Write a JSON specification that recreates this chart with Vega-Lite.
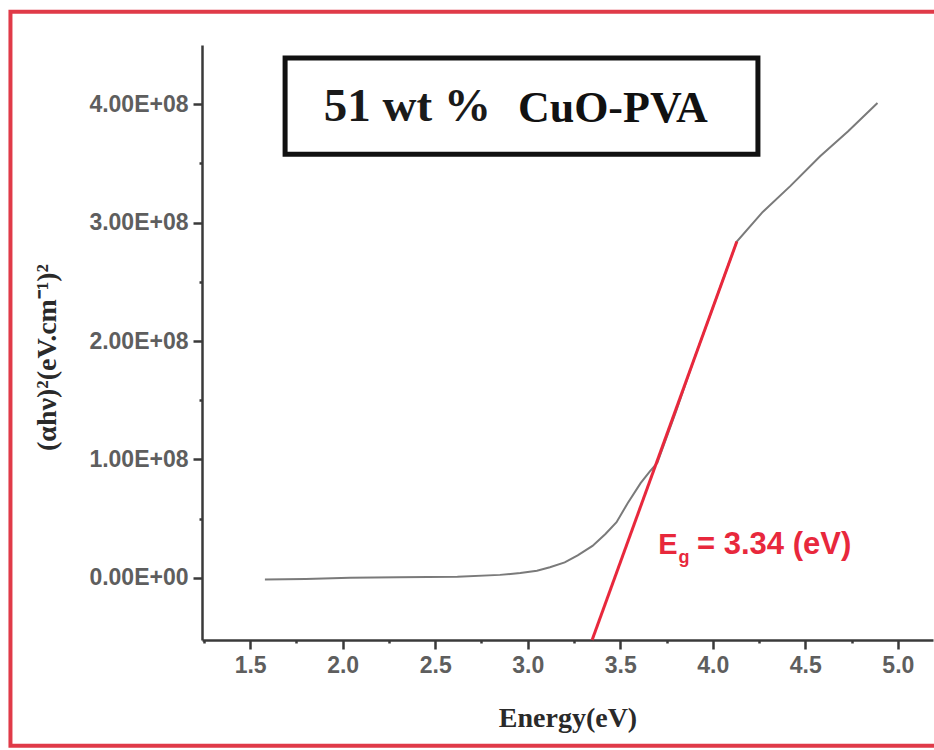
{
  "$schema": "https://vega.github.io/schema/vega-lite/v6.json",
  "width": 731,
  "height": 595,
  "autosize": {"type": "none"},
  "padding": {"left": 202, "top": 45, "right": 1, "bottom": 110},
  "background": "white",
  "config": {
    "view": {"stroke": null},
    "axis": {
      "domainColor": "#3a3a3a",
      "domainWidth": 2.5,
      "tickColor": "#3a3a3a",
      "tickWidth": 2.5,
      "grid": false,
      "labelFont": "Liberation Sans",
      "labelFontSize": 23,
      "labelFontWeight": "bold",
      "labelColor": "#5e5e5e",
      "titleFont": "Liberation Serif",
      "titleFontWeight": "bold",
      "titleColor": "#2a2a2a"
    }
  },
  "datasets": {
    "curve": [
      {"energy": 1.58, "value": -1500000},
      {"energy": 1.8, "value": -1000000},
      {"energy": 2.04, "value": 0},
      {"energy": 2.3, "value": 500000},
      {"energy": 2.62, "value": 1000000},
      {"energy": 2.85, "value": 2500000},
      {"energy": 2.96, "value": 4000000},
      {"energy": 3.05, "value": 6000000},
      {"energy": 3.12, "value": 9000000},
      {"energy": 3.2, "value": 13000000},
      {"energy": 3.27, "value": 19000000},
      {"energy": 3.35, "value": 27000000},
      {"energy": 3.42, "value": 37000000},
      {"energy": 3.48, "value": 47000000},
      {"energy": 3.54, "value": 63000000},
      {"energy": 3.61, "value": 80000000},
      {"energy": 3.66, "value": 90000000},
      {"energy": 3.7, "value": 97000000},
      {"energy": 3.8, "value": 140000000},
      {"energy": 3.9, "value": 185000000},
      {"energy": 4.0, "value": 228000000},
      {"energy": 4.13, "value": 284000000},
      {"energy": 4.27, "value": 309000000},
      {"energy": 4.42, "value": 331000000},
      {"energy": 4.58, "value": 356000000},
      {"energy": 4.73, "value": 377000000},
      {"energy": 4.89, "value": 401000000}
    ],
    "fit": [
      {"energy": 3.348, "value": -52500000},
      {"energy": 4.13, "value": 284000000}
    ]
  },
  "layer": [
    {
      "data": {"values": [{}]},
      "mark": {"type": "rect", "fill": null, "stroke": "#e03a48", "strokeWidth": 4, "clip": false},
      "encoding": {
        "x": {"datum": 0.205, "type": "quantitative"},
        "x2": {"datum": 5.45},
        "y": {"datum": 478000000, "type": "quantitative"},
        "y2": {"datum": -141800000}
      }
    },
    {
      "data": {"name": "curve"},
      "mark": {"type": "line", "color": "#7a7a7a", "strokeWidth": 2},
      "encoding": {
        "x": {
          "field": "energy",
          "type": "quantitative",
          "scale": {"domain": [1.24, 5.19], "nice": false, "zero": false},
          "axis": {
            "title": "Energy(eV)",
            "titleFontSize": 28,
            "titleY": 78,
            "titleBaseline": "middle",
            "values": [1.25, 1.5, 1.75, 2.0, 2.25, 2.5, 2.75, 3.0, 3.25, 3.5, 3.75, 4.0, 4.25, 4.5, 4.75, 5.0],
            "labelExpr": "datum.value % 0.5 == 0 ? format(datum.value, '.1f') : ''",
            "tickSize": {"condition": {"test": "datum.value % 0.5 != 0", "value": 3}, "value": 9},
            "labelPadding": 5
          }
        },
        "y": {
          "field": "value",
          "type": "quantitative",
          "scale": {"domain": [-52500000, 450000000], "nice": false, "zero": false},
          "axis": {
            "title": "(αhν)²(eV.cm⁻¹)²",
            "titleFontSize": 28,
            "titleX": -155,
            "titleY": 312,
            "titleBaseline": "middle",
            "values": [0, 50000000, 100000000, 150000000, 200000000, 250000000, 300000000, 350000000, 400000000],
            "labelExpr": "datum.value % 100000000 != 0 ? '' : (datum.value == 0 ? '0.00E+00' : format(datum.value / 100000000, '.2f') + 'E+08')",
            "tickSize": {"condition": {"test": "datum.value % 100000000 != 0", "value": 3}, "value": 9},
            "labelPadding": 5
          }
        }
      }
    },
    {
      "data": {"name": "fit"},
      "mark": {"type": "line", "color": "#e8283c", "strokeWidth": 3, "clip": false},
      "encoding": {
        "x": {"field": "energy", "type": "quantitative"},
        "y": {"field": "value", "type": "quantitative"}
      }
    },
    {
      "data": {"values": [{}]},
      "mark": {"type": "rect", "fill": "white", "stroke": "#111111", "strokeWidth": 5},
      "encoding": {
        "x": {"datum": 1.689, "type": "quantitative"},
        "x2": {"datum": 4.244},
        "y": {"datum": 439000000, "type": "quantitative"},
        "y2": {"datum": 357700000}
      }
    },
    {
      "data": {"values": [{}]},
      "mark": {"type": "text", "text": "51 wt %", "font": "Liberation Serif", "fontWeight": "bold", "fontSize": 47, "color": "#1a1a1a", "align": "center", "baseline": "middle"},
      "encoding": {
        "x": {"datum": 2.35, "type": "quantitative"},
        "y": {"datum": 398000000, "type": "quantitative"}
      }
    },
    {
      "data": {"values": [{}]},
      "mark": {"type": "text", "text": "CuO-PVA", "font": "Liberation Serif", "fontWeight": "bold", "fontSize": 44, "color": "#111111", "align": "center", "baseline": "middle"},
      "encoding": {
        "x": {"datum": 3.46, "type": "quantitative"},
        "y": {"datum": 396000000, "type": "quantitative"}
      }
    },
    {
      "data": {"values": [{}]},
      "mark": {"type": "text", "text": "E", "font": "Liberation Sans", "fontWeight": "bold", "fontSize": 29, "color": "#e8283c", "align": "left", "baseline": "middle"},
      "encoding": {
        "x": {"datum": 3.705, "type": "quantitative"},
        "y": {"datum": 28000000, "type": "quantitative"}
      }
    },
    {
      "data": {"values": [{}]},
      "mark": {"type": "text", "text": "g", "font": "Liberation Sans", "fontWeight": "bold", "fontSize": 18, "color": "#e8283c", "align": "left", "baseline": "middle"},
      "encoding": {
        "x": {"datum": 3.815, "type": "quantitative"},
        "y": {"datum": 17000000, "type": "quantitative"}
      }
    },
    {
      "data": {"values": [{}]},
      "mark": {"type": "text", "text": "= 3.34 (eV)", "font": "Liberation Sans", "fontWeight": "bold", "fontSize": 31, "color": "#e8283c", "align": "left", "baseline": "middle"},
      "encoding": {
        "x": {"datum": 3.915, "type": "quantitative"},
        "y": {"datum": 28000000, "type": "quantitative"}
      }
    }
  ]
}
